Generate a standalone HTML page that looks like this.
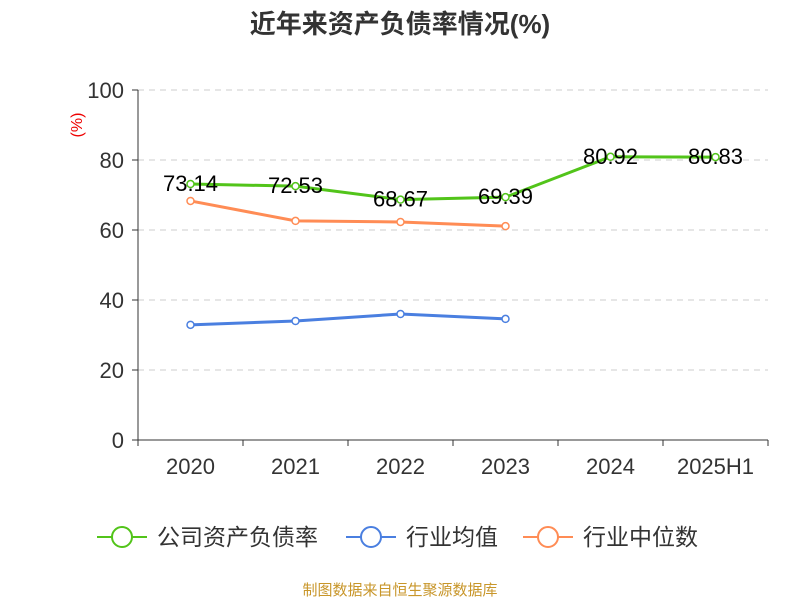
<!DOCTYPE html>
<html><head><meta charset="utf-8"><style>
body{margin:0;background:#fff;font-family:"Liberation Sans","Noto Sans CJK SC",sans-serif}
</style></head><body>
<svg width="800" height="600" xmlns="http://www.w3.org/2000/svg" style="font-family:'Liberation Sans','Noto Sans CJK SC',sans-serif">
<text x="400" y="33" text-anchor="middle" font-size="26" font-weight="bold" fill="#333">近年来资产负债率情况(%)</text>
<text transform="translate(82,125) rotate(-90)" text-anchor="middle" font-size="16" fill="#e00">(%)</text>
<g id="grid"></g><g id="axes"></g><g id="series"></g>
<g>
<g><line x1="97" y1="537" x2="147" y2="537" stroke="#52c41a" stroke-width="2"/><circle cx="122" cy="537" r="10" fill="#fff" stroke="#52c41a" stroke-width="2"/><text x="157" y="545" font-size="23" fill="#333">公司资产负债率</text></g>
<g><line x1="346" y1="537" x2="396" y2="537" stroke="#4a7fe0" stroke-width="2"/><circle cx="371" cy="537" r="10" fill="#fff" stroke="#4a7fe0" stroke-width="2"/><text x="406" y="545" font-size="23" fill="#333">行业均值</text></g>
<g><line x1="523" y1="537" x2="573" y2="537" stroke="#ff8c55" stroke-width="2"/><circle cx="548" cy="537" r="10" fill="#fff" stroke="#ff8c55" stroke-width="2"/><text x="583" y="545" font-size="23" fill="#333">行业中位数</text></g>
</g>
<text x="400" y="595" text-anchor="middle" font-size="15" fill="#c8962a">制图数据来自恒生聚源数据库</text>
</svg>
<script>
const categories=["2020","2021","2022","2023","2024","2025H1"];
const companyValues=[73.14,72.53,68.67,69.39,80.92,80.83];
const meanValues=[32.9,34.0,36.0,34.6];
const medianValues=[68.3,62.6,62.3,61.1];
const yTicks=[0,20,40,60,80,100];
const NS="http://www.w3.org/2000/svg";
const x0=138,x1=768,y0=440,y1=90;
const band=(x1-x0)/categories.length;
const xs=i=>x0+band*(i+0.5);
const ys=v=>y0-(v/100)*(y0-y1);
function mk(tag,attrs,parent,text){const e=document.createElementNS(NS,tag);for(const k in attrs)e.setAttribute(k,attrs[k]);if(text!==undefined)e.textContent=text;document.getElementById(parent).appendChild(e);return e;}
yTicks.forEach(t=>{
 if(t>0){const g=mk('line',{x1:x0,x2:x1,y1:ys(t),y2:ys(t),stroke:'#ccc','stroke-dasharray':'6,5'},'grid');
 
 }
 const tk=mk('line',{x1:x0-6,x2:x0,y1:ys(t),y2:ys(t),stroke:'#333'},'axes');
 
 
 const l=mk('text',{x:x0-14,y:ys(t)+8,'text-anchor':'end','font-size':22,fill:'#333'},'axes',t);
 
 
});
const ya=mk('line',{x1:x0,x2:x0,y1:y1,y2:y0,stroke:'#333'},'axes');


const xa=mk('line',{x1:x0,x2:x1,y1:y0,y2:y0,stroke:'#333'},'axes');


for(let i=0;i<=categories.length;i++){const t=mk('line',{x1:x0+band*i,x2:x0+band*i,y1:y0,y2:y0+6,stroke:'#333'},'axes');
 
 }
categories.forEach((c,i)=>{const l=mk('text',{x:xs(i),y:y0+34,'text-anchor':'middle','font-size':22,fill:'#333'},'axes',c);
 
 });
function series(vals,color,name,labels){
 const p=mk('polyline',{points:vals.map((v,i)=>xs(i)+','+ys(v)).join(' '),fill:'none',stroke:color,'stroke-width':3},'series');
 
 
 vals.forEach((v,i)=>{
  const c=mk('circle',{cx:xs(i),cy:ys(v),r:3.5,fill:'#fff',stroke:color,'stroke-width':1.5},'series');
  
  
  if(labels){const t=mk('text',{x:xs(i),y:ys(v)+7,'text-anchor':'middle','font-size':22,fill:'#000'},'series',v.toFixed(2));
   
   }
 });
}
series(meanValues,'#4a7fe0','industry-mean',false);
series(medianValues,'#ff8c55','industry-median',false);
series(companyValues,'#52c41a','company',true);
</script>
</body></html>
